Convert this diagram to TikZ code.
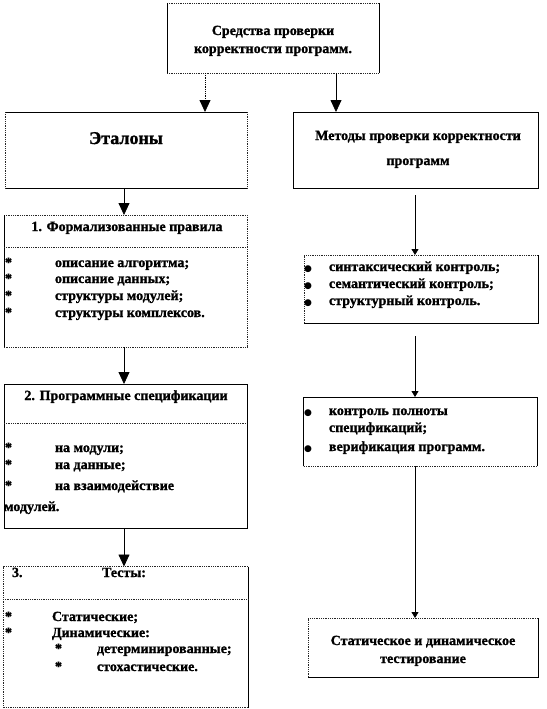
\documentclass[tikz,border=0pt]{standalone}
\usepackage{fontspec}
\setmainfont{Liberation Serif}[BoldFeatures={FakeBold=1.2}]
\newfontfamily\symfont{DejaVu Sans}
\usetikzlibrary{arrows.meta}
\begin{document}
\begin{tikzpicture}[x=1pt,y=-1pt,
  every node/.style={font=\bfseries\fontsize{14}{18}\selectfont, inner sep=0pt, outer sep=0pt},
  frame/.style={draw=none, inner sep=0pt},
  sol/.style={line width=0.8pt, draw=black},
  dot/.style={line width=0.8pt, densely dotted, draw=black!85},
  big/.style={-{Triangle[length=12pt,width=11pt]}, line width=0.8pt},
  small/.style={-{Triangle[length=6pt,width=7pt]}, line width=0.8pt},
  lbl/.style={anchor=base west},
  ctr/.style={anchor=base},
  star/.style={anchor=base west},
  bul/.style={anchor=base, font=\symfont\fontsize{9}{9}\selectfont},
]
\useasboundingbox (0,0) rectangle (546,709);

% ---------- boxes ----------
\node[frame, minimum width=212pt, minimum height=70pt] (top) at (273,38) {};
\node[frame, minimum width=242pt, minimum height=76pt] (et) at (126,150) {};
\node[frame, minimum width=245pt, minimum height=76pt] (met) at (415.5,150) {};
\node[frame, minimum width=243pt, minimum height=132pt] (b1) at (125.5,281) {};
\node[frame, minimum width=243pt, minimum height=144pt] (b2) at (125.5,456) {};
\node[frame, minimum width=245pt, minimum height=141pt] (b3) at (125.5,637) {};
\node[frame, minimum width=234pt, minimum height=68pt] (rA) at (421,289) {};
\node[frame, minimum width=234pt, minimum height=69pt] (rB) at (420,431.5) {};
\node[frame, minimum width=230pt, minimum height=59pt] (rC) at (423,647.5) {};

% top box
\draw[dot] (top.north west) -- (top.north east);
\draw[dot] (top.south west) -- (top.south east);
\draw[sol] (top.north west) -- (top.south west);
\draw[sol] (top.north east) -- (top.south east);
% etalony
\draw[sol] (et.north west) -- (et.north east);
\draw[sol] (et.south west) -- (et.south east);
\draw[dot] (et.north west) -- (et.south west);
\draw[dot] (et.north east) -- (et.south east);
% metody
\draw[sol] (met.north west) rectangle (met.south east);
% box 1
\coordinate (s1) at (0,247);
\draw[dot] (b1.north west) -- (b1.north east) -- (b1.south east) -- (b1.south west);
\draw[sol] (b1.south west) -- (b1.north west);
\draw[dot] (b1.west |- s1) -- (b1.east |- s1);
% box 2
\coordinate (s2) at (0,423);
\draw[sol] (b2.north west) rectangle (b2.south east);
\draw[dot] (b2.west |- s2) -- (b2.east |- s2);
% box 3
\coordinate (s3) at (0,599);
\draw[dot] (b3.south west) -- (b3.north west) -- (b3.north east);
\draw[sol] (b3.north east) -- (b3.south east);
\draw[dot] (b3.south east) -- (b3.south west);
\draw[dot] (b3.west |- s3) -- (b3.east |- s3);
% right A
\draw[dot] (rA.south west) -- (rA.north west) -- (rA.north east);
\draw[sol] (rA.north east) -- (rA.south east) -- (rA.south west);
% right B
\draw[sol] (rB.south west) -- (rB.north west) -- (rB.north east) -- (rB.south east);
\draw[dot] (rB.south east) -- (rB.south west);
% right C
\draw[dot] (rC.south west) -- (rC.north west) -- (rC.north east);
\draw[sol] (rC.north east) -- (rC.south east) -- (rC.south west);

% ---------- connectors ----------
\coordinate (xL) at (205,0);
\coordinate (xR) at (336,0);
\coordinate (xl) at (124,0);
\coordinate (m1) at (415,195);
\coordinate (m2) at (415,336);
\draw[big, densely dotted] (top.south -| xL) -- (et.north -| xL);
\draw[big] (top.south -| xR) -- (met.north -| xR);
\draw[big] (et.south -| xl) -- (b1.north -| xl);
\draw[big] (b1.south -| xl) -- (b2.north -| xl);
\draw[big] (b2.south -| xl) -- (b3.north -| xl);
\draw[small] (m1) -- (rA.north -| m1);
\draw[small] (m2) -- (rB.north -| m2);
\draw[small] (rB.south -| m2) -- (rC.north -| m2);

% ---------- texts ----------
\node[ctr] (t1) at (273,35) {Средства проверки};
\node[ctr] (t2) at (273,53) {корректности программ.};
\node[ctr, font=\bfseries\fontsize{18}{22}\selectfont] (te) at (126,144) {Эталоны};
\node[ctr] (tm1) at (418,140) {Методы проверки корректности};
\node[ctr] (tm2) at (418,165) {программ};

\node[ctr] (h1) at (127,231) {1. Формализованные правила};
\node[star] (a1) at (5,267) {*}; \node[lbl] (i1) at (55,267) {описание алгоритма;};
\node[star] (a2) at (5,283) {*}; \node[lbl] (i2) at (55,283) {описание данных;};
\node[star] (a3) at (5,300) {*}; \node[lbl] (i3) at (55,300) {структуры  модулей;};
\node[star] (a4) at (5,317) {*}; \node[lbl] (i4) at (55,317) {структуры  комплексов.};

\node[ctr] (h2) at (126,400) {2. Программные  спецификации};
\node[star] (c1) at (5,452) {*}; \node[lbl] (j1) at (55,452) {на модули;};
\node[star] (c2) at (5,469) {*}; \node[lbl] (j2) at (55,469) {на данные;};
\node[star] (c3) at (5,490) {*}; \node[lbl] (j3) at (55,490) {на взаимодействие};
\node[lbl] (j4) at (4,511) {модулей.};

\node[lbl] (h3a) at (12,577) {3.};
\node[ctr] (h3b) at (124,577) {Тесты:};
\node[star] (d1) at (5,621) {*}; \node[lbl] (k1) at (52,621) {Статические;};
\node[star] (d2) at (5,637) {*}; \node[lbl] (k2) at (52,637) {Динамические:};
\node[star] (d3) at (55,653) {*}; \node[lbl] (k3) at (97,653) {детерминированные;};
\node[star] (d4) at (55,671) {*}; \node[lbl] (k4) at (97,671) {стохастические.};

\node[bul] (e1) at (308,271) {●}; \node[lbl] (l1) at (329,271) {синтаксический контроль;};
\node[bul] (e2) at (308,288) {●}; \node[lbl] (l2) at (329,288) {семантический контроль;};
\node[bul] (e3) at (308,305) {●}; \node[lbl] (l3) at (329,305) {структурный  контроль.};

\node[bul] (f1) at (308,415) {●}; \node[lbl] (n1) at (329,415) {контроль полноты};
\node[lbl] (n2) at (329,432) {спецификаций;};
\node[bul] (f2) at (308,451) {●}; \node[lbl] (n3) at (329,451) {верификация программ.};

\node[ctr] (r1) at (423,645) {Статическое и динамическое};
\node[ctr] (r2) at (423,663) {тестирование};
\end{tikzpicture}
\end{document}
